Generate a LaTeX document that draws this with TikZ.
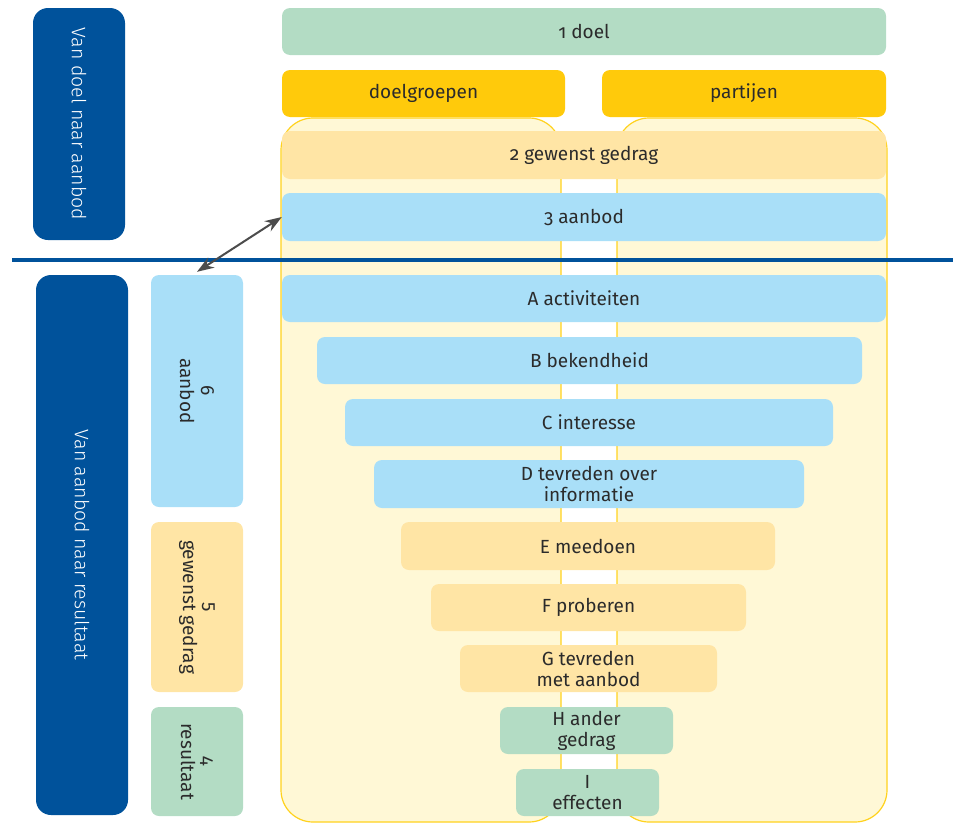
\documentclass[tikz,border=0pt]{standalone}
\usepackage{fontspec}
\setmainfont[Numbers=OldStyle]{Fira Sans}
\newfontfamily\licht[Numbers=OldStyle]{Fira Sans Light}
\usetikzlibrary{arrows.meta}
\definecolor{donkerblauw}{HTML}{00529B}
\definecolor{groen}{HTML}{B3DCC4}
\definecolor{goud}{HTML}{FFCA0B}
\definecolor{oranje}{HTML}{FFE5A5}
\definecolor{lichtblauw}{HTML}{A9DFF8}
\definecolor{bleekgeel}{HTML}{FFF8D6}
\definecolor{kolomrand}{HTML}{FFD21E}
\definecolor{tekst}{HTML}{2B2B2B}
\begin{document}
\begin{tikzpicture}[x=1pt, y=-1pt]
\tikzstyle{balk} = [rectangle, rounded corners=8pt, inner sep=0pt, minimum height=47pt, align=center, text=tekst, font=\fontsize{19}{21}\selectfont]
\tikzstyle{zijbalk} = [balk, rotate=-90, minimum height=92pt]
\tikzstyle{fase} = [rectangle, rounded corners=15pt, fill=donkerblauw, inner sep=0pt, rotate=-90, minimum height=92pt, text=white, font=\licht\fontsize{19.5}{21}\selectfont]
\tikzstyle{kolom} = [fill=bleekgeel, draw=kolomrand, line width=1.2pt, rounded corners=32pt]
\useasboundingbox (0,0) rectangle (953,822);
% achtergrondkolommen
\draw[kolom] (281,118) rectangle (561,822);
\draw[kolom] (617,118) rectangle (887,822);
% fasen links
\node[fase, minimum width=232pt] (fase1) at (79,124) {Van doel naar aanbod};
\node[fase, minimum width=540pt] (fase2) at (82,545) {Van aanbod naar resultaat};
% bovenste balken
\node[balk, fill=groen, minimum width=604pt] (doel) at (584,31.5) {1 doel};
\node[balk, fill=goud, minimum width=283pt] (doelgroepen) at (423.5,93.5) {doelgroepen};
\node[balk, fill=goud, minimum width=284pt] (partijen) at (744,93.5) {partijen};
\node[balk, fill=oranje, minimum width=604pt, minimum height=48pt] (gedrag) at (584,155) {2 gewenst gedrag};
\node[balk, fill=lichtblauw, minimum width=604pt, minimum height=48pt] (aanbod) at (584,217) {3 aanbod};
% trechter
\node[balk, fill=lichtblauw, minimum width=604pt] (A) at (584,298.5) {A activiteiten};
\node[balk, fill=lichtblauw, minimum width=545pt] (B) at (589.5,360.5) {B bekendheid};
\node[balk, fill=lichtblauw, minimum width=488pt] (C) at (589,422.5) {C interesse};
\node[balk, fill=lichtblauw, minimum width=430pt, minimum height=48pt] (D) at (589,484) {D tevreden over\\informatie};
\node[balk, fill=oranje, minimum width=374pt, minimum height=48pt] (E) at (588,546) {E meedoen};
\node[balk, fill=oranje, minimum width=315pt] (F) at (588.5,607.5) {F proberen};
\node[balk, fill=oranje, minimum width=257pt] (G) at (588.5,668.5) {G tevreden\\met aanbod};
\node[balk, fill=groen, minimum width=173pt] (H) at (586.5,730.5) {H ander\\gedrag};
\node[balk, fill=groen, minimum width=143pt] (I) at (587.5,792.5) {I\\effecten};
% zijbalken
\node[zijbalk, fill=lichtblauw, minimum width=232pt] (zij6) at (197,391) {6\\aanbod};
\node[zijbalk, fill=oranje, minimum width=170pt] (zij5) at (197,607) {5\\gewenst gedrag};
\node[zijbalk, fill=groen, minimum width=109pt] (zij4) at (197,761.5) {4\\resultaat};
% scheidingslijn
\coordinate (lijnL) at (12,260);
\coordinate (lijnR) at (953,260);
\draw[donkerblauw, line width=4pt] (lijnL) -- (lijnR);
\draw[{Stealth[length=17pt,width=12pt]}-{Stealth[length=17pt,width=12pt]}, draw=black!70, fill=black!70, line width=2pt] ([yshift=3pt]zij6.west) -- (aanbod.west);
\end{tikzpicture}
\end{document}
